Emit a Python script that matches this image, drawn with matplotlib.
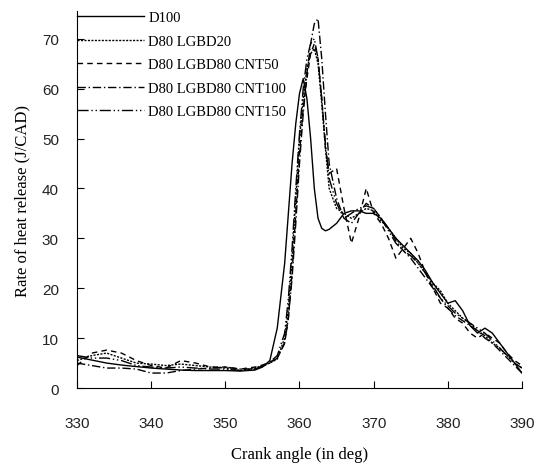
import numpy as np
import matplotlib.pyplot as plt

# crank angle (deg)
angle = [330, 332, 334, 336, 338, 340, 342, 344, 346, 348, 350, 352, 354,
         355, 356, 357, 358,
         358.5, 359, 359.5, 360, 360.5, 361, 361.5, 362, 362.5, 363, 363.5, 364,
         365, 366, 367, 368, 369, 370, 371, 372, 373, 374, 375, 376, 377,
         378, 379, 380, 381, 382, 383, 384, 385, 386, 387, 388, 389, 390]

d100 = [6.2, 5.6, 5.0, 4.6, 4.3, 4.0, 3.8, 3.6, 3.5, 3.5, 3.5, 3.4, 3.6,
        4.2, 5.5, 12, 25,
        35, 45, 53, 59, 62, 58, 50, 40, 34, 32, 31.5, 31.8,
        33, 35, 35.5, 35.5, 35, 35, 34, 32, 30, 28.5, 27, 25.5, 23.5,
        21, 19, 17, 17.5, 15.5, 12.5, 11, 12, 11, 9, 7, 5, 3]

lgbd20 = [5.5, 6.5, 7.0, 6.0, 5.0, 4.8, 4.5, 4.8, 4.5, 4.2, 4.0, 3.5, 4.0,
          4.5, 5.0, 5.8, 10,
          16, 26, 38, 50, 58, 64, 67, 68, 65, 57, 48, 40,
          36, 35, 34, 35, 36, 35.5, 33.5, 32, 30, 28, 27, 25, 23,
          21, 19.5, 17, 15.5, 14, 13, 11.5, 10.5, 9, 8, 6.5, 5, 4]

cnt50 = [4.5, 7.0, 7.6, 7.0, 5.5, 4.5, 4.0, 5.5, 5.0, 4.2, 4.2, 3.8, 4.2,
         4.6, 5.2, 6, 9,
         14, 23, 35, 47, 56, 62, 67, 69, 66, 58, 48, 43,
         44, 36, 29, 34, 40, 35, 33, 30, 26, 28, 30, 27, 23,
         20, 17, 16, 14, 13, 11, 10, 11, 10, 9, 7, 5.5, 4.5]

cnt100 = [5.0, 4.5, 4.0, 4.0, 3.8, 3.0, 3.0, 3.5, 3.8, 4.0, 4.2, 3.8, 3.8,
          4.3, 5, 6, 9,
          14, 22, 33, 45, 55, 63, 69, 73, 74, 66, 55, 45,
          38, 34, 33, 35, 37, 36, 34, 32, 29.5, 27.5, 26, 24, 22,
          20, 18, 16, 14.5, 13.5, 12.5, 11.5, 10, 9, 7.5, 6, 4.5, 3]

cnt150 = [6.5, 6.0, 6.0, 5.5, 4.5, 4.2, 4.0, 4.2, 4.0, 3.8, 3.8, 3.5, 3.8,
          4.4, 5.2, 6.5, 11,
          18, 28, 40, 51, 60, 66, 69, 70, 66, 58, 49, 42,
          37, 34, 35, 36, 36.5, 36, 34, 31.5, 29, 27.5, 26.5, 25, 23,
          20.5, 18, 16.5, 15, 14, 13, 12, 11, 9.5, 8, 6.5, 5, 4]

labels = ['D100', 'D80 LGBD20', 'D80 LGBD80 CNT50', 'D80 LGBD80 CNT100', 'D80 LGBD80 CNT150']
series = [d100, lgbd20, cnt50, cnt100, cnt150]
styles = ['-', (0, (1.5, 1)), (0, (4, 3)), (0, (6, 2, 1, 2)), (0, (8, 2, 1, 2, 1, 2))]

fig = plt.figure(figsize=(5.43, 4.64), dpi=100)
ax = fig.add_axes([0.1418, 0.1616, 0.8195, 0.812])

for y, lab, ls in zip(series, labels, styles):
    ax.plot(angle, y, color='black', linestyle=ls, linewidth=1.0, label=lab)

ax.set_xlim(330, 390)
ax.set_ylim(0, 75.5)
ax.set_xticks(np.arange(330, 391, 10))
ax.set_yticks(np.arange(0, 71, 10))
ax.spines['top'].set_visible(False)
ax.spines['right'].set_visible(False)
ax.tick_params(direction='in', length=5, labelsize=11)
ax.tick_params(axis='x', pad=20)
ax.tick_params(axis='y', pad=13)
for t in ax.get_xticklabels() + ax.get_yticklabels():
    t.set_family('Liberation Sans')
    t.set_color('#222222')

ax.set_xlabel('Crank angle (in deg)', family='Liberation Serif', fontsize=12, labelpad=12)
ax.set_ylabel('Rate of heat release (J/CAD)', family='Liberation Serif', fontsize=12, labelpad=8)

ax.legend(loc='upper left', bbox_to_anchor=(0, 1.0), frameon=False, borderpad=0,
          borderaxespad=0, handlelength=4.6, handletextpad=0.3, labelspacing=0.7,
          prop={'family': 'Liberation Serif', 'size': 10.5})

plt.savefig('out.png', dpi=100)
